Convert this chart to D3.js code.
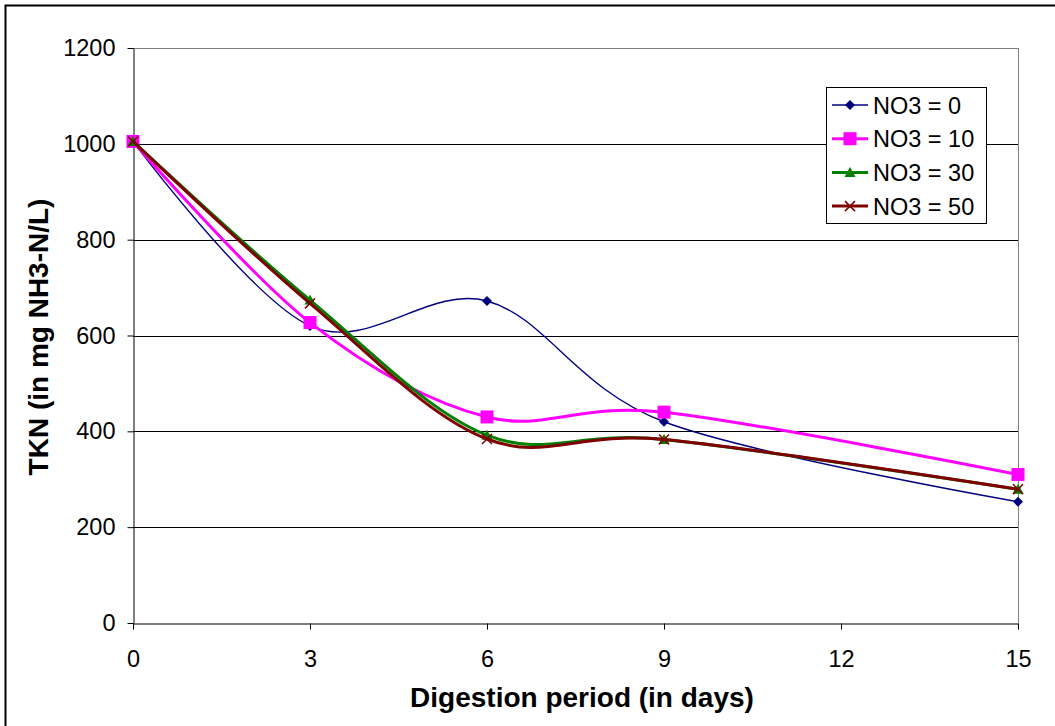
<!DOCTYPE html>
<html>
<head>
<meta charset="utf-8">
<script src="https://cdn.jsdelivr.net/npm/d3@7"></script>
<style>
  body { margin: 0; background: #fff; }
  text { font-family: "Liberation Sans", Arial, sans-serif; }
</style>
</head>
<body>
<svg id="chart" width="1055" height="726"></svg>
<script>
// data
const days = [0, 3, 6, 9, 15];
const no3_0 = [1005, 620, 672, 420, 253];
const no3_10 = [1005, 627, 430, 440, 310];
const no3_30 = [1005, 674, 392, 383, 279];
const no3_50 = [1005, 667, 384, 383, 279];
const seriesNames = ["NO3 = 0", "NO3 = 10", "NO3 = 30", "NO3 = 50"];
const xTicks = [0, 3, 6, 9, 12, 15];
const yTicks = [0, 200, 400, 600, 800, 1000, 1200];

const series = [
  { name: seriesNames[0], values: no3_0, color: "#000080", width: 1.4, marker: "diamond" },
  { name: seriesNames[1], values: no3_10, color: "#FF00FF", width: 3, marker: "square" },
  { name: seriesNames[2], values: no3_30, color: "#008000", width: 3, marker: "triangle" },
  { name: seriesNames[3], values: no3_50, color: "#800000", width: 3, marker: "x" },
];

const svg = d3.select("#chart");
const plotLeft = 133, plotRight = 1018, plotTop = 48, plotBottom = 623;

const x = d3.scaleLinear().domain([0, 15]).range([plotLeft, plotRight]);
const y = d3.scaleLinear().domain([0, 1200]).range([plotBottom, plotTop]);

// outer frame (only top/left visible in the picture)
svg.append("rect")
  .attr("x", 5.5).attr("y", 5.5)
  .attr("width", 1100).attr("height", 800)
  .attr("fill", "none").attr("stroke", "#000").attr("stroke-width", 2);

// gridlines
svg.selectAll(".grid")
  .data(yTicks.filter((d) => d > 0))
  .enter()
  .append("line")
  .attr("class", "grid")
  .attr("x1", plotLeft).attr("x2", plotRight)
  .attr("y1", (d) => Math.round(y(d)) + 0.5)
  .attr("y2", (d) => Math.round(y(d)) + 0.5)
  .style("stroke", (d) => (d === 1200 ? "#808080" : "#000"))
  .style("stroke-width", 1);

// plot area right border
svg.append("line")
  .attr("x1", plotRight + 0.5).attr("x2", plotRight + 0.5)
  .attr("y1", plotTop).attr("y2", plotBottom)
  .style("stroke", "#808080");

// axes
const xAxis = d3.axisBottom(x).tickValues(xTicks).tickSize(6).tickSizeOuter(0).tickPadding(21);
const yAxis = d3.axisLeft(y).tickValues(yTicks).tickFormat(d3.format("d"))
  .tickSize(6).tickSizeOuter(0).tickPadding(12);

const gx = svg.append("g")
  .attr("transform", `translate(0,${plotBottom + 0.5})`)
  .call(xAxis);
const gy = svg.append("g")
  .attr("transform", `translate(${plotLeft + 0.5},0)`)
  .call(yAxis);

[gx, gy].forEach((g) => {
  g.select(".domain").attr("stroke", "#000");
  g.selectAll(".tick line").attr("stroke", "#000");
  g.selectAll(".tick text")
    .attr("fill", "#000")
    .style("font-size", "23.5px")
    .style("font-family", '"Liberation Sans", Arial, sans-serif');
});

// axis titles
svg.append("text")
  .attr("x", 582).attr("y", 707)
  .attr("text-anchor", "middle")
  .style("font-size", "28px").style("font-weight", "bold")
  .text("Digestion period (in days)");

svg.append("text")
  .attr("transform", "translate(48,337) rotate(-90)")
  .attr("text-anchor", "middle")
  .style("font-size", "28px").style("font-weight", "bold")
  .text("TKN (in mg NH3-N/L)");

// lines
const line = d3.line()
  .x((d, i) => x(days[i]))
  .y((d) => y(d))
  .curve(d3.curveCardinal.tension(0));

const drawMarker = (g, type, color, cx, cy) => {
  if (type === "diamond") {
    g.append("path")
      .attr("d", `M${cx},${cy - 5}L${cx + 5},${cy}L${cx},${cy + 5}L${cx - 5},${cy}Z`)
      .attr("fill", color);
  } else if (type === "square") {
    g.append("rect")
      .attr("x", cx - 6.5).attr("y", cy - 6.5)
      .attr("width", 13).attr("height", 13)
      .attr("fill", color);
  } else if (type === "triangle") {
    g.append("path")
      .attr("d", `M${cx},${cy - 5.5}L${cx + 5.5},${cy + 4.5}L${cx - 5.5},${cy + 4.5}Z`)
      .attr("fill", color);
  } else {
    g.append("path")
      .attr("d", `M${cx - 5},${cy - 5}L${cx + 5},${cy + 5}M${cx - 5},${cy + 5}L${cx + 5},${cy - 5}`)
      .attr("stroke", color).attr("stroke-width", 1.5).attr("fill", "none");
  }
};

series.forEach((s) => {
  svg.append("path")
    .datum(s.values)
    .attr("d", line)
    .attr("fill", "none")
    .attr("stroke", s.color)
    .attr("stroke-width", s.width);
  const g = svg.append("g");
  s.values.forEach((v, i) => drawMarker(g, s.marker, s.color, x(days[i]), y(v)));
});

// legend
const legend = svg.append("g");
legend.append("rect")
  .attr("x", 826.5).attr("y", 87.5)
  .attr("width", 160).attr("height", 136)
  .attr("fill", "#fff").attr("stroke", "#000").attr("stroke-width", 1);

series.forEach((s, i) => {
  const ly = 105 + i * 33.7;
  legend.append("line")
    .attr("x1", 832).attr("x2", 868)
    .attr("y1", ly).attr("y2", ly)
    .attr("stroke", s.color).attr("stroke-width", s.width);
  drawMarker(legend, s.marker, s.color, 850, ly);
  legend.append("text")
    .attr("x", 873).attr("y", ly + 8.5)
    .style("font-size", "23.5px")
    .text(s.name);
});
</script>
</body>
</html>
